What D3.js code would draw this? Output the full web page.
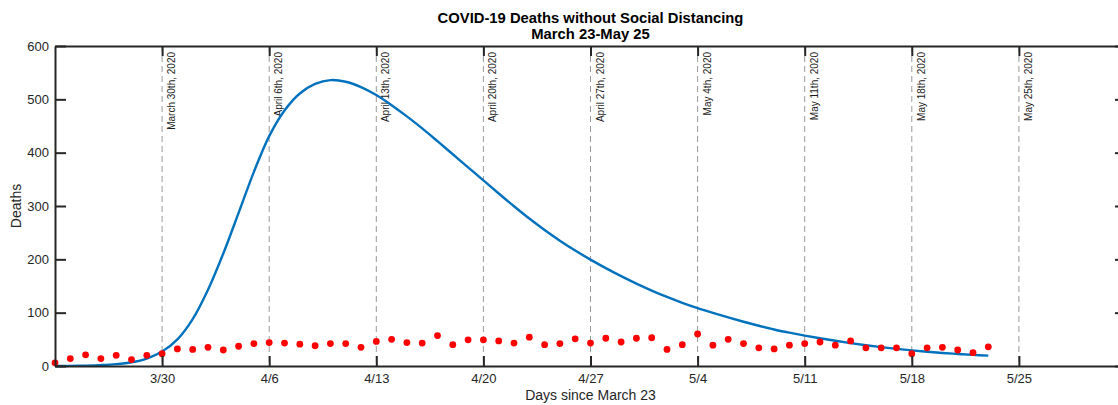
<!DOCTYPE html>
<html>
<head>
<meta charset="utf-8">
<script src="https://cdn.jsdelivr.net/npm/d3@7"></script>
<style>
  html, body { margin: 0; padding: 0; background: #fff; }
  svg { display: block; font-family: "Liberation Sans", Arial, Helvetica, sans-serif; }
</style>
</head>
<body>
<svg id="chart" width="1118" height="405"></svg>
<script>
// ---- Data ----
const days = d3.range(0, 62); // day index since March 23
const modelDeaths = [0, 0.2, 0.7, 1.7, 3.5, 7, 14, 27, 50, 88,
  143, 211, 287, 364, 431, 479, 511, 529, 536, 533,
  523, 508, 489, 468, 445.5, 421.5, 397, 372.5, 348, 323.5,
  299.5, 276.5, 255, 235, 216.5, 199.5, 183.5, 168.5, 154.5, 141.5,
  129.5, 118.5, 108.5, 99.5, 91, 83, 75.5, 68.5, 62.5, 57,
  52, 47.3, 43, 39, 35.4, 32.2, 29.3, 26.8, 24.5, 22.6,
  20.9, 19.4];
const actualDeaths = [6, 14, 21, 14, 20, 12, 20, 23, 32, 31,
  35, 30, 37, 42, 44, 43, 41, 38, 42, 42,
  35, 46, 50, 44, 43, 57, 40, 49, 49, 47,
  43, 54, 40, 42, 51, 43, 52, 45, 52, 53,
  31, 40, 60, 39, 50, 42, 34, 32, 39, 42,
  45, 39, 47, 34, 34, 34, 23, 34, 35, 30,
  25, 36];
const tickDays = [7, 14, 21, 28, 35, 42, 49, 56, 63];
const tickLabels = ["3/30", "4/6", "4/13", "4/20", "4/27", "5/4", "5/11", "5/18", "5/25"];
const lineLabels = ["March 30th, 2020", "April 6th, 2020", "April 13th, 2020", "April 20th, 2020",
  "April 27th, 2020", "May 4th, 2020", "May 11th, 2020", "May 18th, 2020", "May 25th, 2020"];
const yTicks = [0, 100, 200, 300, 400, 500, 600];
const titleLines = ["COVID-19 Deaths without Social Distancing", "March 23-May 25"];

// ---- Layout ----
const L = 55, R = 1126, T = 46, B = 366;
const axisColor = "#262626";

const svg = d3.select("#chart");
const x = d3.scaleLinear().domain([0, 70]).range([L, R]);
const y = d3.scaleLinear().domain([0, 600]).range([B, T]);

// vertical dashed reference lines
const vl = svg.append("g");
vl.selectAll("line").data(tickDays).join("line")
  .attr("x1", d => x(d)).attr("x2", d => x(d))
  .attr("y1", T).attr("y2", B)
  .attr("stroke", "#9a9a9a").attr("stroke-width", 1)
  .attr("stroke-dasharray", "6,4");
vl.selectAll("text").data(tickDays).join("text")
  .attr("transform", d => `translate(${x(d) + 13},${T + 6}) rotate(-90)`)
  .attr("text-anchor", "end")
  .attr("font-size", 10)
  .attr("fill", "#1a1a1a")
  .text((d, i) => lineLabels[i]);

// model curve
const line = d3.line()
  .x((d, i) => x(days[i]))
  .y(d => y(d))
  .curve(d3.curveCatmullRom.alpha(0.5));
svg.append("path")
  .datum(modelDeaths)
  .attr("d", line)
  .attr("fill", "none")
  .attr("stroke", "#0072BD")
  .attr("stroke-width", 2.4);

// actual deaths dots
svg.append("g").selectAll("circle").data(actualDeaths).join("circle")
  .attr("cx", (d, i) => x(days[i]))
  .attr("cy", d => y(d))
  .attr("r", 3.4)
  .attr("fill", "#ff0000");

// axes
function styleAxis(g) {
  g.selectAll("path.domain").attr("stroke", axisColor).attr("stroke-width", 2);
  g.selectAll(".tick line").attr("stroke", axisColor).attr("stroke-width", 2);
  g.selectAll(".tick text").attr("fill", axisColor).attr("font-size", 13)
    .attr("font-family", "Liberation Sans, Arial, Helvetica, sans-serif");
}
const xb = svg.append("g").attr("transform", `translate(0,${B})`)
  .call(d3.axisBottom(x).tickValues(tickDays).tickFormat((d, i) => tickLabels[i])
    .tickSizeInner(-10).tickSizeOuter(0).tickPadding(8));
styleAxis(xb);
const xt = svg.append("g").attr("transform", `translate(0,${T})`)
  .call(d3.axisTop(x).tickValues(tickDays).tickFormat("")
    .tickSizeInner(-10).tickSizeOuter(0));
styleAxis(xt);
const yl = svg.append("g").attr("transform", `translate(${L},0)`)
  .call(d3.axisLeft(y).tickValues(yTicks).tickFormat(d3.format("d"))
    .tickSizeInner(-11).tickSizeOuter(0).tickPadding(6));
styleAxis(yl);
const yr = svg.append("g").attr("transform", `translate(${R},0)`)
  .call(d3.axisRight(y).tickValues(yTicks).tickFormat("")
    .tickSizeInner(-11).tickSizeOuter(0));
styleAxis(yr);

// axis labels
svg.append("text")
  .attr("x", (L + R) / 2).attr("y", 400)
  .attr("text-anchor", "middle").attr("font-size", 14).attr("fill", axisColor)
  .text("Days since March 23");
svg.append("text")
  .attr("transform", `translate(21,${(T + B) / 2}) rotate(-90)`)
  .attr("text-anchor", "middle").attr("font-size", 14).attr("fill", axisColor)
  .text("Deaths");

// title
svg.append("g").selectAll("text").data(titleLines).join("text")
  .attr("x", (L + R) / 2).attr("y", (d, i) => 23 + i * 15.5)
  .attr("text-anchor", "middle").attr("font-size", 14.8).attr("font-weight", "bold")
  .attr("fill", "#000")
  .text(d => d);
</script>
</body>
</html>
